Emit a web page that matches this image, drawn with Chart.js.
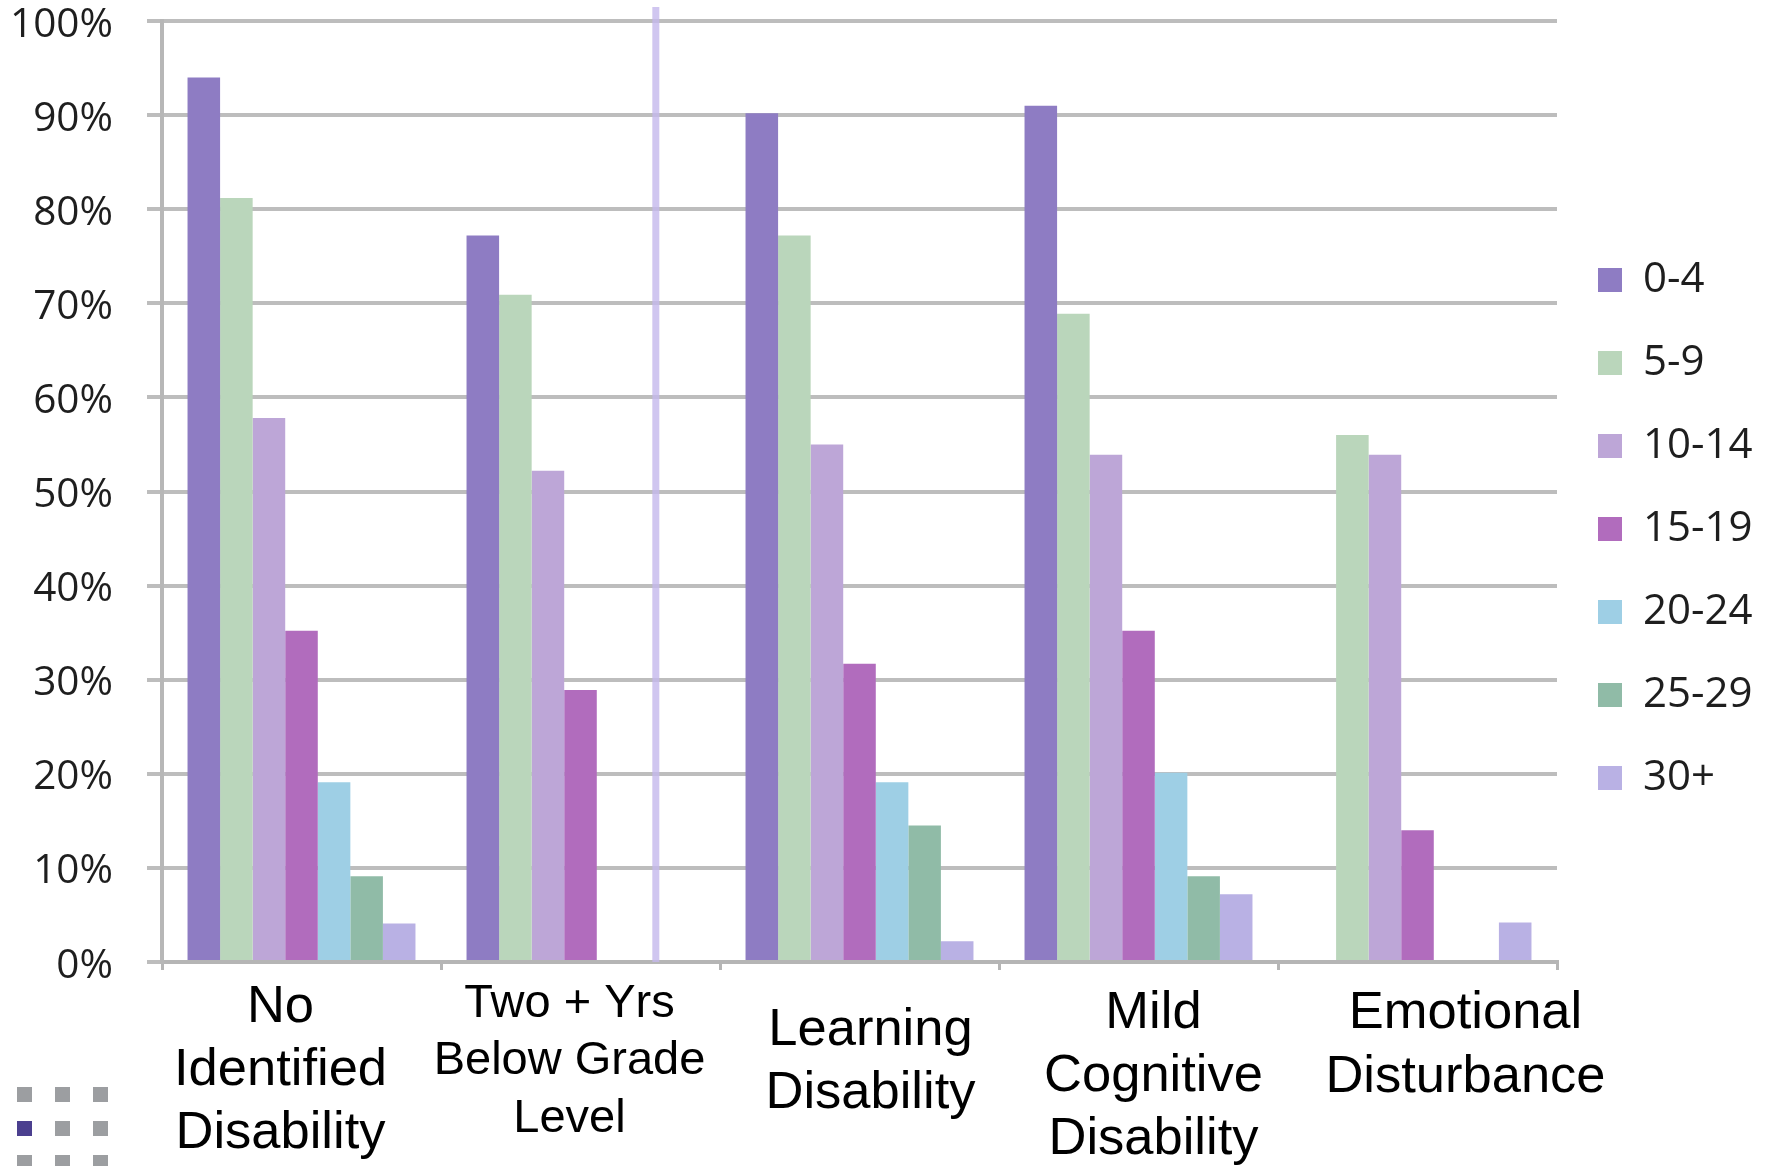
<!DOCTYPE html>
<html>
<head>
<meta charset="utf-8">
<script src="https://cdn.jsdelivr.net/npm/chart.js@4.4.1/dist/chart.umd.min.js"></script>
<style>
  html, body { margin: 0; padding: 0; background: #ffffff; }
  #wrap { position: relative; width: 1769px; height: 1166px; overflow: hidden; }
  #wrap canvas { position: absolute; left: 0; top: 0; }
  .dot { position: absolute; width: 15px; height: 15px; background: #9c9ea1; }
  .dot.on { background: #4b3f8f; }
</style>
</head>
<body>
<div id="wrap">
  <canvas id="chart" width="1769" height="1166"></canvas>
  <div class="dot" style="left:17px;top:1087px"></div>
  <div class="dot" style="left:55px;top:1087px"></div>
  <div class="dot" style="left:93px;top:1087px"></div>
  <div class="dot on" style="left:17px;top:1121px"></div>
  <div class="dot" style="left:55px;top:1121px"></div>
  <div class="dot" style="left:93px;top:1121px"></div>
  <div class="dot" style="left:17px;top:1155px"></div>
  <div class="dot" style="left:55px;top:1155px"></div>
  <div class="dot" style="left:93px;top:1155px"></div>
</div>
<script>
// Student groups on the x axis, one label line per array entry
const categories = [
  ["No", "Identified", "Disability"],
  ["Two + Yrs", "Below Grade", "Level"],
  ["Learning", "Disability"],
  ["Mild", "Cognitive", "Disability"],
  ["Emotional", "Disturbance"]
];

// Age bands (series)
const seriesNames = ["0-4", "5-9", "10-14", "15-19", "20-24", "25-29", "30+"];

// Percentages per age band, one value per group (null = no bar)
const age0to4   = [94.0, 77.2, 90.2, 91.0, null];
const age5to9   = [81.2, 70.9, 77.2, 68.9, 56.0];
const age10to14 = [57.8, 52.2, 55.0, 53.9, 53.9];
const age15to19 = [35.2, 28.9, 31.7, 35.2, 14.0];
const age20to24 = [19.1, null, 19.1, 20.1, null];
const age25to29 = [9.1,  null, 14.5, 9.1,  null];
const age30plus = [4.1,  null, 2.2,  7.2,  4.2];

// Y axis tick values
const yTicks = [0, 10, 20, 30, 40, 50, 60, 70, 80, 90, 100];

// Position of the thin divider line, in category units
const dividerAt = 1.27;

// ---- styling ----
const seriesColors = ["#8E7CC3", "#BAD6BB", "#BDA6D7", "#B16CBD", "#9ECFE5", "#90BBA7", "#B9B1E4"];
const seriesValues = [age0to4, age5to9, age10to14, age15to19, age20to24, age25to29, age30plus];

// Per-category label style: horizontal shift, first-line centre below axis, font size, line step
const labelStyles = [
  { dx: -21, dy: 46, size: 52.5, step: 63 },
  { dx: -11, dy: 42, size: 47,   step: 57.5 },
  { dx: 11,  dy: 69, size: 52.5, step: 63 },
  { dx: 15,  dy: 52, size: 52.5, step: 63 },
  { dx: 48,  dy: 52, size: 52.5, step: 64 }
];

const categoryLabels = categories.map(c => c.join(" "));

const datasets = seriesNames.map((name, i) => ({
  label: name,
  data: seriesValues[i],
  backgroundColor: seriesColors[i],
  borderWidth: 0,
  barPercentage: 1.0,
  categoryPercentage: 0.817
}));

// Draws the vertical divider and the multi-line group labels under the axis
const decorations = {
  id: 'decorations',
  beforeDatasetsDraw(chart) {
    const x = chart.scales.x;
    const area = chart.chartArea;
    const ctx = chart.ctx;
    const px = x.getPixelForValue(dividerAt);
    ctx.save();
    ctx.strokeStyle = 'rgba(196, 184, 236, 0.8)';
    ctx.lineWidth = 7;
    ctx.beginPath();
    ctx.moveTo(px, area.top - 14);
    ctx.lineTo(px, area.bottom);
    ctx.stroke();
    ctx.restore();
  },
  afterDraw(chart) {
    const x = chart.scales.x;
    const area = chart.chartArea;
    const ctx = chart.ctx;
    ctx.save();
    ctx.fillStyle = '#000000';
    ctx.textAlign = 'center';
    ctx.textBaseline = 'middle';
    categories.forEach((lines, i) => {
      const st = labelStyles[i];
      const cx = x.getPixelForValue(i) + st.dx;
      ctx.font = st.size + 'px "Liberation Sans", Arial, sans-serif';
      lines.forEach((line, j) => {
        ctx.fillText(line, cx, area.bottom + st.dy + j * st.step);
      });
    });
    ctx.restore();
  }
};

new Chart(document.getElementById('chart'), {
  type: 'bar',
  data: { labels: categoryLabels, datasets },
  plugins: [decorations],
  options: {
    responsive: false,
    animation: false,
    devicePixelRatio: 1,
    layout: { autoPadding: false, padding: { top: 21, left: 13, right: 11, bottom: 196 } },
    plugins: {
      tooltip: { enabled: false },
      legend: {
        position: 'right',
        align: 'start',
        maxWidth: 201,
        title: { display: true, text: '', font: { size: 10, lineHeight: 1.2 }, padding: { top: 185, bottom: 0 } },
        labels: {
          boxWidth: 24,
          boxHeight: 24,
          padding: 41,
          color: '#1e1e1e',
          font: { family: '"Open Sans", sans-serif', size: 42 }
        }
      }
    },
    scales: {
      x: {
        offset: true,
        ticks: { display: false },
        grid: {
          display: true,
          offset: true,
          drawOnChartArea: false,
          drawTicks: true,
          tickLength: 8,
          color: '#b5b5b5',
          lineWidth: 3
        },
        border: { display: true, color: '#b5b5b5', width: 4 }
      },
      y: {
        min: 0,
        max: 100,
        afterBuildTicks(scale) { scale.ticks = yTicks.map(v => ({ value: v })); },
        afterFit(scale) {
          scale.width = 149;
          scale.paddingTop = 0;
          scale.paddingBottom = 0;
        },
        ticks: {
          padding: 34,
          labelOffset: 4,
          color: '#1e1e1e',
          font: { family: '"Open Sans", sans-serif', size: 40.5, lineHeight: 1.0 },
          callback: v => v + '%'
        },
        grid: {
          color: '#bdbdbd',
          lineWidth: 4,
          drawTicks: true,
          tickLength: 15
        },
        border: { display: true, color: '#b7b7b7', width: 4 }
      }
    }
  }
});
</script>
</body>
</html>
